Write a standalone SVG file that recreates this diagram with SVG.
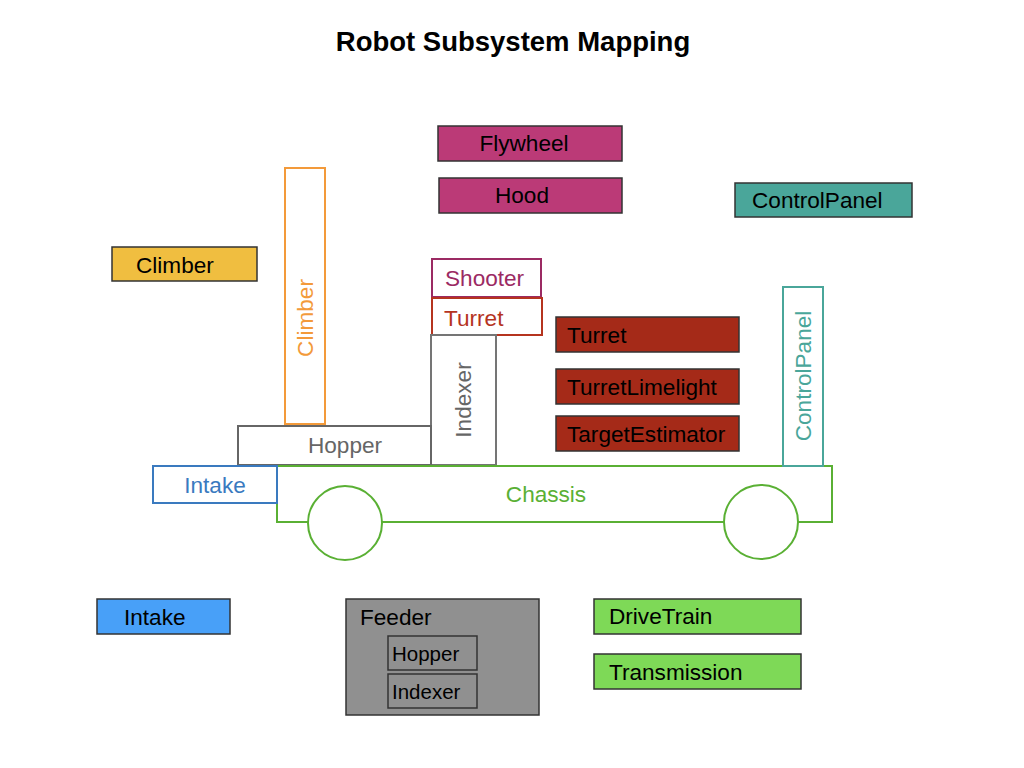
<svg xmlns="http://www.w3.org/2000/svg" width="1024" height="768" viewBox="0 0 1024 768">
<style>
text{font-family:"Liberation Sans",Arial,sans-serif;font-size:22.6px}
.title{font-weight:bold;font-size:27.5px}
.box{stroke:#333;stroke-width:1.5}
.ol{fill:#fff;stroke-width:2}
.sm{font-size:20.5px}
</style>
<rect width="1024" height="768" fill="#fff"/>
<text class="title" x="513" y="51" text-anchor="middle" fill="#000">Robot Subsystem Mapping</text>

<g id="flywheel"><rect class="box" x="438" y="126" width="184" height="35" fill="#bb3a77"/><text x="524" y="151" text-anchor="middle">Flywheel</text></g>
<g id="hood"><rect class="box" x="439" y="178" width="183" height="35" fill="#bb3a77"/><text x="522" y="203" text-anchor="middle">Hood</text></g>
<g id="controlpanel-legend"><rect class="box" x="735" y="183" width="177" height="34" fill="#4aa69a"/><text x="752" y="208">ControlPanel</text></g>
<g id="climber-legend"><rect class="box" x="112" y="247" width="145" height="34" fill="#f0be40"/><text x="136" y="273">Climber</text></g>

<g id="climber"><rect class="ol" x="285" y="168" width="40" height="256" stroke="#f39a3a"/><text transform="translate(313,318) rotate(-90)" text-anchor="middle" fill="#f39a3a">Climber</text></g>
<g id="shooter"><rect class="ol" x="432" y="259" width="109" height="38" stroke="#9b2a63"/><text x="445" y="286" fill="#9b2a63">Shooter</text></g>
<g id="turret"><rect class="ol" x="432" y="298" width="110" height="37" stroke="#b5341f"/><text x="444" y="326" fill="#b5341f">Turret</text></g>
<g id="indexer"><rect class="ol" x="431" y="335" width="65" height="130" stroke="#757575"/><text transform="translate(471,400) rotate(-90)" text-anchor="middle" fill="#666">Indexer</text></g>
<g id="hopper"><rect class="ol" x="238" y="426" width="193" height="39" stroke="#666"/><text x="345" y="453" text-anchor="middle" fill="#666">Hopper</text></g>
<g id="chassis"><rect class="ol" x="277" y="466" width="555" height="56" stroke="#5ab034"/><text x="546" y="502" text-anchor="middle" fill="#5ab034">Chassis</text>
<circle cx="345" cy="523" r="37" fill="#fff" stroke="#5ab034" stroke-width="2"/><circle cx="761" cy="522" r="37" fill="#fff" stroke="#5ab034" stroke-width="2"/></g>
<g id="intake"><rect class="ol" x="153" y="466" width="124" height="37" stroke="#3a7abf"/><text x="215" y="493" text-anchor="middle" fill="#3a7abf">Intake</text></g>
<g id="controlpanel"><rect class="ol" x="783" y="287" width="40" height="179" stroke="#4aa69a"/><text transform="translate(811,376) rotate(-90)" text-anchor="middle" fill="#4aa69a">ControlPanel</text></g>

<g id="turret-legend"><rect class="box" x="556" y="317" width="183" height="35" fill="#a52a18"/><text x="567" y="343">Turret</text></g>
<g id="turretlimelight"><rect class="box" x="556" y="369" width="183" height="35" fill="#a52a18"/><text x="567" y="395">TurretLimelight</text></g>
<g id="targetestimator"><rect class="box" x="556" y="416" width="183" height="35" fill="#a52a18"/><text x="567" y="442">TargetEstimator</text></g>

<g id="intake-legend"><rect class="box" x="97" y="599" width="133" height="35" fill="#48a0f8"/><text x="124" y="625">Intake</text></g>
<g id="feeder"><rect class="box" x="346" y="599" width="193" height="116" fill="#909090"/><text x="360" y="625">Feeder</text>
<rect class="box" x="388" y="636" width="89" height="34" fill="#909090"/><text class="sm" x="392" y="661">Hopper</text>
<rect class="box" x="388" y="674" width="89" height="34" fill="#909090"/><text class="sm" x="392" y="699">Indexer</text></g>
<g id="drivetrain"><rect class="box" x="594" y="599" width="207" height="35" fill="#7ed957"/><text x="609" y="624">DriveTrain</text></g>
<g id="transmission"><rect class="box" x="594" y="654" width="207" height="35" fill="#7ed957"/><text x="609" y="680">Transmission</text></g>
<g id="connectors"/>
</svg>
